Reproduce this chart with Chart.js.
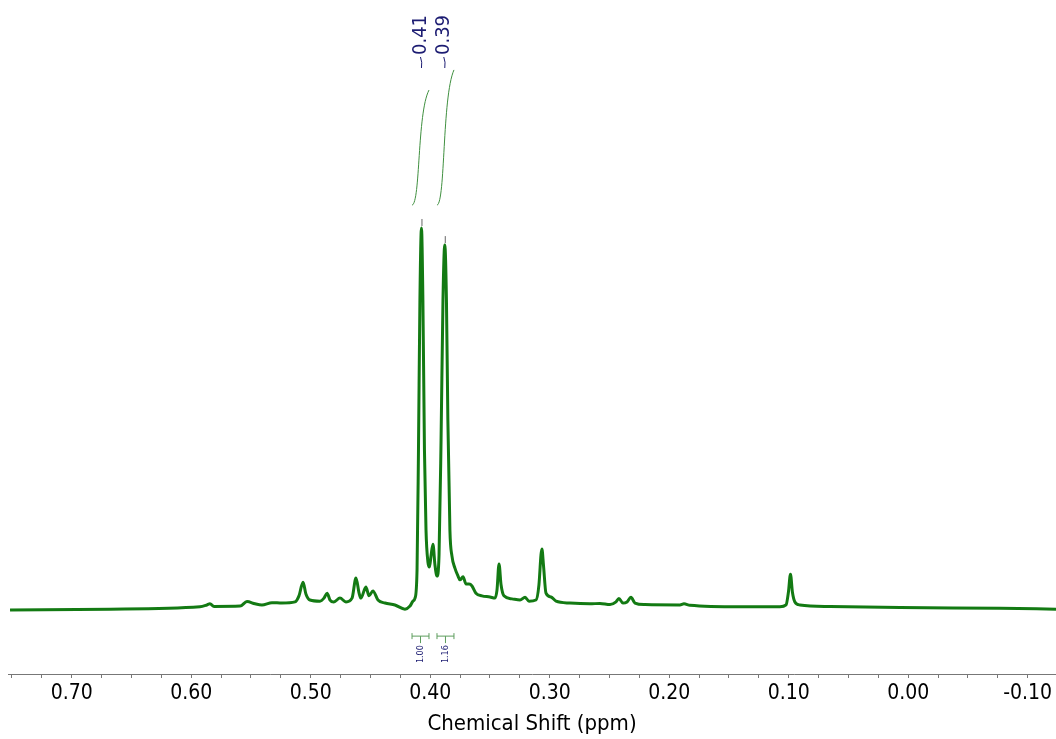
<!DOCTYPE html>
<html lang="en">
  <head>
    <meta charset="UTF-8" />
    <title>1H NMR spectrum</title>
    <script src="https://cdn.jsdelivr.net/npm/chart.js@4/dist/chart.umd.min.js"></script>
    <style>
      body { margin: 0; background: #fff; }
      .wrap { width: 1056px; height: 739px; position: relative; }
    </style>
  </head>
  <body>
    <div class="wrap">
      <canvas id="nmr"></canvas>
    </div>

    <script>
      // spectrum points (ppm, relative intensity)
      const shifts = [
        0.7516, 0.668, 0.5927, 0.5868, 0.5843, 0.5809, 0.5591, 0.5533, 0.5466, 0.5408,
        0.5324, 0.524, 0.5131, 0.5098, 0.5064, 0.504, 0.5006, 0.4922, 0.4889, 0.4863,
        0.4838, 0.4806, 0.4755, 0.4705, 0.4654, 0.4621, 0.4595, 0.458, 0.4538, 0.4512,
        0.4479, 0.4437, 0.4378, 0.4295, 0.4211, 0.4169, 0.4144, 0.4127, 0.411, 0.4098,
        0.4086, 0.4073, 0.4061, 0.4048, 0.4035, 0.4019, 0.4006, 0.3993, 0.3977, 0.396,
        0.3943, 0.3926, 0.3909, 0.3893, 0.3878, 0.3864, 0.3852, 0.3835, 0.3818, 0.3793,
        0.3767, 0.3751, 0.3725, 0.37, 0.3675, 0.365, 0.3617, 0.3567, 0.35, 0.3458,
        0.3441, 0.3424, 0.3407, 0.3383, 0.3316, 0.3248, 0.3206, 0.3173, 0.3115, 0.309,
        0.3073, 0.3065, 0.3052, 0.3031, 0.2989, 0.2947, 0.283, 0.2663, 0.2579, 0.2495,
        0.2445, 0.2421, 0.2387, 0.2353, 0.232, 0.2286, 0.2202, 0.191, 0.1876, 0.1826,
        0.1408, 0.1073, 0.1022, 0.1002, 0.0985, 0.0969, 0.0948, 0.0906, 0.0654, 0.0068,
        -0.0768, -0.1237
      ];
      const intensities = [
        -0.5, -0.3, 0.3, 0.8, 1.1, 0.4, 0.5, 1.7, 1.1, 0.8,
        1.4, 1.3, 1.6, 3.2, 6.8, 3.7, 2.1, 1.8, 2.6, 3.9,
        2.1, 1.6, 2.6, 1.6, 2.6, 7.9, 3.9, 2.6, 5.5, 3.2,
        4.5, 2.1, 1.3, 0.8, -0.3, 0.5, 1.8, 2.6, 10, 41.6,
        81, 100, 81, 41.6, 20.5, 12.1, 10.8, 13.7, 16.8, 11.3,
        8.4, 13.9, 44.2, 81, 95.5, 81, 49.5, 20.5, 13.7, 10.5,
        8.4, 7.4, 8.2, 6.3, 6.3, 5.8, 3.9, 3.2, 2.9, 2.6,
        4.7, 11.6, 6.1, 3.2, 2.4, 2.1, 2.8, 1.8, 2.1, 6.1,
        13.9, 15.5, 11.3, 3.9, 2.9, 1.8, 1.3, 1.1, 1.2, 0.9,
        1.6, 2.5, 1.3, 1.6, 2.8, 1.3, 0.9, 0.8, 1.1, 0.7,
        0.3, 0.3, 0.8, 4.2, 8.9, 4.2, 1.6, 0.8, 0.4, 0.1,
        -0.1, -0.3
      ];

      // picked peaks
      const peakShifts = [0.4073, 0.3878];
      const peakHeights = [100, 95.5];
      const peakLabels = ["0.41", "0.39"];

      // integrals
      const integralFrom = [0.4152, 0.3943];
      const integralTo = [0.401, 0.3801];
      const integralStart = [106, 106];
      const integralEnd = [136.3, 141.6];
      const integralValues = ["1.00", "1.16"];

      // axis
      const tickValues = [0.7, 0.6, 0.5, 0.4, 0.3, 0.2, 0.1, 0.0, -0.1];
      const tickLabels = ["0.70", "0.60", "0.50", "0.40", "0.30", "0.20", "0.10", "0.00", "-0.10"];

      const FONT = '"DejaVu Sans Condensed", "DejaVu Sans", sans-serif';
      const NAVY = "#1c1c72";

      const points = shifts.map((s, i) => ({ x: s, y: intensities[i] }));

      const annotations = {
        id: "annotations",
        afterDatasetsDraw(chart) {
          const ctx = chart.ctx;
          const xs = chart.scales.x;
          const ys = chart.scales.y;
          const top = chart.chartArea.top;
          ctx.save();

          // peak labels + markers
          peakShifts.forEach((s, i) => {
            const x = xs.getPixelForValue(s);
            ctx.save();
            ctx.translate(x - 1, top + 55);
            ctx.rotate(-Math.PI / 2);
            ctx.font = "20px " + FONT;
            ctx.fillStyle = NAVY;
            ctx.textAlign = "left";
            ctx.textBaseline = "middle";
            ctx.fillText(peakLabels[i], 0, 0);
            ctx.restore();

            ctx.strokeStyle = NAVY;
            ctx.lineWidth = 1;
            ctx.beginPath();
            ctx.moveTo(x - 1, top + 57);
            ctx.quadraticCurveTo(x + 1, top + 62, x, top + 68);
            ctx.stroke();

            const py = ys.getPixelForValue(peakHeights[i]);
            ctx.strokeStyle = "#666";
            ctx.beginPath();
            ctx.moveTo(x + 0.5, py - 9);
            ctx.lineTo(x + 0.5, py - 2);
            ctx.stroke();
          });

          // integral curves
          ctx.strokeStyle = "#3f8f3f";
          ctx.lineWidth = 1;
          integralFrom.forEach((f, i) => {
            const x1 = xs.getPixelForValue(f);
            const x2 = xs.getPixelForValue(integralTo[i]);
            const y1 = ys.getPixelForValue(integralStart[i]);
            const y2 = ys.getPixelForValue(integralEnd[i]);
            const w = x2 - x1, h = y1 - y2;
            ctx.beginPath();
            ctx.moveTo(x1, y1);
            ctx.bezierCurveTo(x1 + w * 0.5, y1 - h * 0.02, x1 + w * 0.3, y2 + h * 0.2, x2, y2);
            ctx.stroke();
          });

          // integral brackets below baseline
          const by = ys.getPixelForValue(-7.4);
          integralFrom.forEach((f, i) => {
            const x1 = xs.getPixelForValue(f);
            const x2 = xs.getPixelForValue(integralTo[i]);
            const xm = (x1 + x2) / 2;
            ctx.strokeStyle = "#5d9d5d";
            ctx.beginPath();
            ctx.moveTo(x1, by - 3); ctx.lineTo(x1, by + 3);
            ctx.moveTo(x2, by - 3); ctx.lineTo(x2, by + 3);
            ctx.moveTo(x1, by); ctx.lineTo(x2, by);
            ctx.moveTo(xm, by); ctx.lineTo(xm, by + 7);
            ctx.stroke();

            ctx.save();
            ctx.translate(xm, by + 27);
            ctx.rotate(-Math.PI / 2);
            ctx.font = "9px " + FONT;
            ctx.fillStyle = NAVY;
            ctx.textAlign = "left";
            ctx.textBaseline = "middle";
            ctx.fillText(integralValues[i], 0, 0);
            ctx.restore();
          });

          ctx.restore();
        },
      };

      new Chart(document.getElementById("nmr"), {
        type: "scatter",
        data: {
          datasets: [
            {
              data: points,
              showLine: true,
              borderColor: "#137a13",
              borderWidth: 3,
              pointRadius: 0,
              cubicInterpolationMode: "monotone",
            },
          ],
        },
        options: {
          responsive: true,
          maintainAspectRatio: false,
          animation: false,
          layout: { padding: { left: 8, right: 0, top: 0, bottom: 0 } },
          plugins: {
            legend: { display: false },
            tooltip: { enabled: false },
          },
          scales: {
            x: {
              type: "linear",
              reverse: true,
              min: -0.1237,
              max: 0.7533,
              afterBuildTicks(scale) {
                const t = [];
                for (let k = 30; k >= -4; k--) t.push({ value: k * 0.025 });
                scale.ticks = t;
              },
              grid: {
                drawOnChartArea: false,
                drawTicks: true,
                tickLength: 4,
                color: "#777",
              },
              border: { color: "#777", width: 1 },
              ticks: {
                autoSkip: false,
                maxRotation: 0,
                padding: 3,
                color: "#000",
                font: { family: FONT, size: 21 },
                callback(value) {
                  const i = tickValues.findIndex((v) => Math.abs(v - value) < 1e-6);
                  return i >= 0 ? tickLabels[i] : "";
                },
              },
              title: {
                display: true,
                text: "Chemical Shift (ppm)",
                color: "#000",
                font: { family: FONT, size: 22 },
                padding: { top: 2, bottom: 1.4 },
              },
            },
            y: {
              display: false,
              min: -17.37,
              max: 160,
            },
          },
        },
        plugins: [annotations],
      });
    </script>
  </body>
</html>
